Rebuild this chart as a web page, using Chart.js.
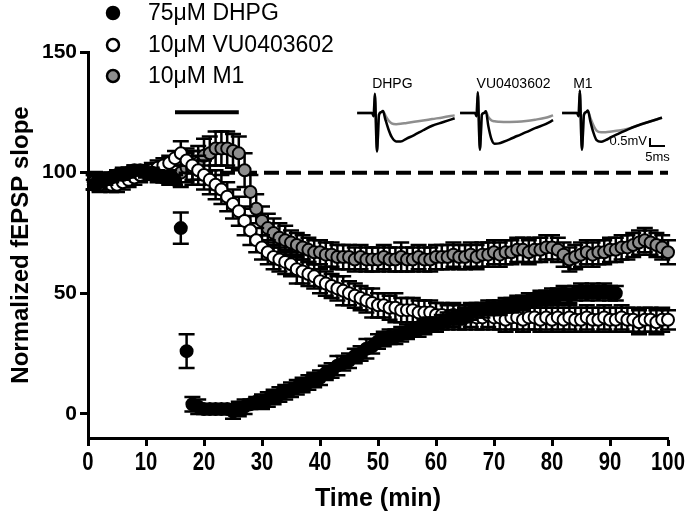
<!DOCTYPE html>
<html>
<head>
<meta charset="utf-8">
<script src="https://cdn.jsdelivr.net/npm/chart.js@4.4.1/dist/chart.umd.min.js"></script>
<style>
  body { margin: 0; background: #fff; }
  #wrap { width: 690px; height: 520px; }
</style>
</head>
<body>
<div id="wrap"><canvas id="fepsp" width="690" height="520"></canvas></div>
<script>
// time points (min)
const minutes = [1, 2, 3, 4, 5, 6, 7, 8, 9, 10, 11, 12, 13, 14, 15, 16, 17, 18, 19, 20,
  21, 22, 23, 24, 25, 26, 27, 28, 29, 30, 31, 32, 33, 34, 35, 36, 37, 38, 39, 40,
  41, 42, 43, 44, 45, 46, 47, 48, 49, 50, 51, 52, 53, 54, 55, 56, 57, 58, 59, 60,
  61, 62, 63, 64, 65, 66, 67, 68, 69, 70, 71, 72, 73, 74, 75, 76, 77, 78, 79, 80,
  81, 82, 83, 84, 85, 86, 87, 88, 89, 90, 91, 92, 93, 94, 95, 96, 97, 98, 99, 100];
const xTicks = [0, 10, 20, 30, 40, 50, 60, 70, 80, 90, 100];
const yTicks = [0, 50, 100, 150];

// 75uM DHPG (t = 1..91)
const dhpgMean = [95, 96, 97, 98, 99, 99, 100, 101, 101, 100, 100, 99, 98, 98, 97,
  77, 26,
  4, 3, 2, 2, 2, 2, 2, 1, 2, 3, 4, 5, 5,
  6, 7, 8, 9, 10, 11, 12, 13, 14, 15,
  17, 18, 20, 21, 22, 24, 25, 27, 28, 30,
  31, 32, 32, 33, 34, 35, 35, 36, 37, 37,
  38, 39, 40, 40, 41, 42, 43, 43, 44, 44,
  44, 45, 45, 46, 46, 47, 47, 48, 48, 49,
  49, 50, 49, 50, 51, 50, 51, 50, 51, 50, 50];
const dhpgSem = [2, 2, 2, 2, 2, 2, 2, 2, 2, 2, 2, 2, 2, 2, 2,
  6.5, 7,
  3, 3, 2, 2, 2, 2, 2, 3, 3, 3, 2, 2, 3,
  3, 3, 3, 3, 3, 3, 3, 3, 3, 3, 3, 3, 4, 3, 3, 3, 3, 4, 3, 3,
  3, 3, 3, 3, 3, 3, 3, 3, 3, 3, 3, 3, 3, 3, 3, 3, 3, 3, 3, 3,
  3, 3, 3, 3, 3, 3, 3, 3, 3, 3, 3, 3, 3, 3, 3, 3, 3, 3, 3, 3, 3];

// 10uM VU0403602
const vuMean = [96, 95, 96, 95, 95, 96, 97, 98, 99, 100,
  101, 102, 103, 104, 106, 108,
  105, 103, 101, 99, 97, 95, 93, 90, 87, 84,
  80, 76, 72, 69, 67, 65, 64, 63, 62, 60, 59, 58, 57, 55, 54, 53, 52, 51, 50, 49, 48, 47, 46, 45,
  45, 44, 44, 43, 43, 43, 42, 42, 42, 41,
  41, 40, 41, 40, 40, 41, 40, 40, 41, 40, 40, 39, 40, 40, 39, 40, 40, 39, 40, 39,
  40, 39, 40, 39, 39, 40, 39, 39, 40, 39, 39, 40, 39, 39, 38, 39, 39, 38, 39, 39];
const vuSem = [3, 3, 3, 3, 3, 3, 3, 3, 3, 3, 3, 3, 3, 3, 3,
  5, 5, 6, 6, 6, 6, 6, 6, 6, 6, 6, 6, 6, 5, 5,
  5, 5, 5, 5, 5, 6, 5, 5, 5, 5, 5, 5, 5, 6, 5, 5, 5, 5, 6, 5,
  5, 5, 6, 5, 5, 5, 5, 5, 5, 5, 5, 5, 5, 5, 5, 5, 5, 5, 5, 5,
  5, 5, 5, 5, 5, 5, 5, 5, 5, 5, 5, 5, 5, 5, 5, 5, 5, 5, 5, 5,
  5, 5, 5, 5, 5, 5, 5, 5, 5, 4];

// 10uM M1
const m1Mean = [96, 96, 97, 97, 98, 99, 99, 100, 100, 100, 100, 99, 99, 98, 98,
  100, 102, 102, 104, 107, 108, 110, 110, 110, 109, 108,
  101, 92, 85, 80, 77, 75, 73, 72, 71, 70, 69, 68, 67, 67,
  66, 66, 65, 65, 65, 64, 65, 64, 64, 64,
  65, 64, 64, 65, 64, 64, 65, 64, 64, 65,
  65, 65, 66, 65, 65, 66, 65, 66, 66, 67,
  66, 67, 67, 68, 68, 67, 68, 68, 69, 69,
  68, 66, 64, 65, 66, 67, 66, 67, 67, 68,
  68, 69, 69, 70, 71, 72, 71, 70, 69, 67];
const m1Sem = [3, 3, 3, 3, 3, 3, 3, 3, 3, 3, 3, 3, 3, 3, 3,
  6, 6, 7, 7, 7, 7, 7, 7, 7, 7, 7,
  7, 7, 6, 6, 6, 6, 6, 6, 5, 5, 5, 5, 5, 5,
  5, 5, 5, 5, 5, 5, 5, 5, 5, 5, 5, 5, 5, 6, 5, 5, 5, 5, 5, 5,
  5, 5, 5, 5, 5, 5, 5, 5, 5, 5, 5, 5, 5, 5, 5, 5, 5, 5, 5, 5,
  5, 5, 5, 5, 5, 5, 5, 5, 5, 5, 5, 5, 5, 5, 5, 5, 5, 5, 5, 5];

// baseline reference and drug application bar
const baselineX = [0, 100];
const baselineY = [100, 100];
const drugBarX = [15, 26];
const drugBarY = [125, 125];

// example traces: ms after panel start, mV from baseline (black = before, grey = after drug)
const dhpgTraceMs = [0, 5.0, 5.5, 5.9, 6.6, 7.3, 8.0, 8.6, 9.4, 10.4, 11.5, 13, 14.5, 16.5, 19, 22, 25, 28.5, 32.5];
const dhpgTraceCtl = [0, 0, -0.2, 1.2, -2.4, -0.1, 0.05, 0.12, -0.4, -1.0, -1.5, -1.78, -1.78, -1.6, -1.38, -1.08, -0.8, -0.58, -0.33];
const dhpgTraceDrug = [0, 0, -0.2, 1.2, -2.4, -0.1, 0.05, 0.12, -0.15, -0.45, -0.65, -0.7, -0.68, -0.62, -0.55, -0.47, -0.38, -0.28, -0.15];
const vuTraceMs = [0, 5.0, 5.5, 5.9, 6.6, 7.3, 8.0, 8.6, 9.4, 10.4, 11.5, 13, 14.5, 16.5, 19, 22, 25, 28.5, 31];
const vuTraceCtl = [0, 0, -0.2, 1.3, -2.3, -0.1, 0.0, 0.1, -0.8, -1.6, -1.92, -1.9, -1.8, -1.65, -1.44, -1.2, -0.95, -0.7, -0.45];
const vuTraceDrug = [0, 0, -0.2, 1.3, -2.3, -0.1, 0.0, 0.1, -0.25, -0.45, -0.52, -0.55, -0.56, -0.56, -0.55, -0.5, -0.42, -0.3, -0.15];
const m1TraceMs = [0, 5.0, 5.5, 5.9, 6.6, 7.3, 8.0, 8.6, 9.4, 10.4, 11.5, 13, 14.5, 16.5, 19, 22, 25, 28.5, 33.3];
const m1TraceCtl = [0, 0, -0.2, 1.4, -2.3, -0.1, 0.05, 0.15, -0.5, -1.2, -1.7, -1.8, -1.7, -1.5, -1.28, -1.02, -0.8, -0.58, -0.3];
const m1TraceDrug = [0, 0, -0.2, 1.4, -2.3, -0.1, 0.05, 0.12, -0.3, -0.75, -1.1, -1.2, -1.2, -1.16, -1.1, -0.98, -0.8, -0.58, -0.3];
const traceNames = ['DHPG', 'VU0403602', 'M1'];
const scaleBarMs = [29.3, 29.3, 34.3];
const scaleBarMv = [-1.56, -2.06, -2.06];

// where each trace panel starts on the hidden trace axis (ms)
const panelStart = [89.7, 124, 158];
const nameOffset = [5, 5.5, 3.7];

const FONT = "'Liberation Sans', Arial, sans-serif";
const GREY = '#8e8e8e';

function pts(xs, ys, dx) {
    return ys.map(function(v, i) { return { x: xs[i] + (dx || 0), y: v }; });
}

function seriesSet(label, mean, sem, fill) {
    return {
        type: 'scatter',
        label: label,
        data: pts(minutes, mean),
        sem: sem,
        pointRadius: 6,
        pointHoverRadius: 6,
        borderWidth: 2,
        borderColor: '#000',
        backgroundColor: fill,
        clip: false,
        order: 0
    };
}

function traceSet(xs, ys, panel, color) {
    return {
        type: 'line',
        data: pts(xs, ys, panelStart[panel]),
        xAxisID: 'tx',
        yAxisID: 'ty',
        borderColor: color,
        borderWidth: 2.5,
        pointRadius: 0,
        cubicInterpolationMode: 'monotone',
        clip: false,
        order: 5
    };
}

const errorBars = {
    id: 'errorBars',
    beforeDatasetDraw(chart, args) {
        const ds = chart.data.datasets[args.index];
        if (!ds.sem) return;
        const y = chart.scales.y;
        const ctx = chart.ctx;
        ctx.save();
        ctx.strokeStyle = '#000';
        ctx.lineWidth = 2.5;
        args.meta.data.forEach(function(p, i) {
            const v = ds.data[i].y;
            const hi = y.getPixelForValue(v + ds.sem[i]);
            const lo = y.getPixelForValue(v - ds.sem[i]);
            ctx.beginPath();
            ctx.moveTo(p.x, hi); ctx.lineTo(p.x, lo);
            ctx.moveTo(p.x - 8, hi); ctx.lineTo(p.x + 8, hi);
            ctx.moveTo(p.x - 8, lo); ctx.lineTo(p.x + 8, lo);
            ctx.stroke();
        });
        ctx.restore();
    }
};

const annotations = {
    id: 'annotations',
    afterDraw(chart) {
        const ctx = chart.ctx;
        const x = chart.scales.x;
        const tx = chart.scales.tx, ty = chart.scales.ty;
        ctx.save();
        ctx.fillStyle = '#000';
        // x tick labels in a narrow bold face
        ctx.font = 'bold 26px ' + FONT;
        ctx.textAlign = 'center';
        ctx.textBaseline = 'top';
        xTicks.forEach(function(v) {
            ctx.save();
            ctx.translate(x.getPixelForValue(v), x.top + 12);
            ctx.scale(0.78, 1);
            ctx.fillText(String(v), 0, 0);
            ctx.restore();
        });
        // legend
        const rows = [13, 45, 76];
        chart.data.datasets.filter(function(d) { return d.sem; }).forEach(function(d, i) {
            ctx.beginPath();
            ctx.arc(113, rows[i], 6, 0, Math.PI * 2);
            ctx.fillStyle = d.backgroundColor;
            ctx.fill();
            ctx.lineWidth = 2.5;
            ctx.strokeStyle = '#000';
            ctx.stroke();
            ctx.fillStyle = '#000';
            ctx.font = '23px ' + FONT;
            ctx.textBaseline = 'middle';
            ctx.textAlign = 'left';
            ctx.fillText(d.label, 148, rows[i] + 1);
        });
        // trace panel names
        ctx.font = '14px ' + FONT;
        traceNames.forEach(function(n, i) {
            ctx.fillText(n, tx.getPixelForValue(panelStart[i] + nameOffset[i]), ty.getPixelForValue(1.8));
        });
        // scale bar labels
        ctx.font = '13px ' + FONT;
        ctx.textAlign = 'right';
        ctx.fillText('0.5mV', tx.getPixelForValue(panelStart[2] + 28.3), ty.getPixelForValue(-1.8));
        ctx.textAlign = 'center';
        ctx.fillText('5ms', tx.getPixelForValue(panelStart[2] + 31.8), ty.getPixelForValue(-2.75));
        ctx.restore();
    }
};

const datasets = [
    seriesSet('75μM DHPG', dhpgMean, dhpgSem, '#000'),
    seriesSet('10μM VU0403602', vuMean, vuSem, '#fff'),
    seriesSet('10μM M1', m1Mean, m1Sem, GREY),
    {
        type: 'line', data: pts(baselineX, baselineY), borderColor: '#000', borderWidth: 4,
        borderDash: [15, 7], pointRadius: 0, order: 10
    },
    {
        type: 'line', data: pts(drugBarX, drugBarY), borderColor: '#000', borderWidth: 4,
        pointRadius: 0, order: 10
    },
    traceSet(dhpgTraceMs, dhpgTraceCtl, 0, '#000'),
    traceSet(dhpgTraceMs, dhpgTraceDrug, 0, GREY),
    traceSet(vuTraceMs, vuTraceCtl, 1, '#000'),
    traceSet(vuTraceMs, vuTraceDrug, 1, GREY),
    traceSet(m1TraceMs, m1TraceCtl, 2, '#000'),
    traceSet(m1TraceMs, m1TraceDrug, 2, GREY),
    {
        type: 'line', data: pts(scaleBarMs, scaleBarMv, panelStart[2]), xAxisID: 'tx', yAxisID: 'ty',
        borderColor: '#000', borderWidth: 2, pointRadius: 0, clip: false, order: 5
    }
];

new Chart(document.getElementById('fepsp').getContext('2d'), {
    type: 'scatter',
    data: { datasets: datasets },
    options: {
        responsive: false,
        animation: false,
        devicePixelRatio: 1,
        layout: { padding: { top: 52, right: 22 } },
        plugins: { legend: { display: false }, tooltip: { enabled: false } },
        scales: {
            x: {
                type: 'linear',
                min: 0, max: 100,
                afterFit: function(s) { s.height = 82; },
                afterBuildTicks: function(s) { s.ticks = xTicks.map(function(v) { return { value: v }; }); },
                ticks: { display: false },
                grid: { drawOnChartArea: false, tickLength: 8, tickWidth: 3, tickColor: '#000' },
                border: { color: '#000', width: 3 },
                title: {
                    display: true, text: 'Time (min)', color: '#000',
                    font: { family: FONT, weight: 'bold', size: 25 },
                    padding: { top: 0, bottom: 6 }
                }
            },
            y: {
                type: 'linear',
                min: -10, max: 150,
                afterFit: function(s) { s.width = 88; },
                afterBuildTicks: function(s) { s.ticks = yTicks.map(function(v) { return { value: v }; }); },
                ticks: {
                    color: '#000', padding: 3,
                    font: { family: FONT, weight: 'bold', size: 21 }
                },
                grid: { drawOnChartArea: false, tickLength: 8, tickWidth: 3, tickColor: '#000' },
                border: { color: '#000', width: 3 },
                title: {
                    display: true, text: 'Normalized fEPSP slope', color: '#000',
                    font: { family: FONT, weight: 'bold', size: 24 },
                    padding: { top: 7, bottom: 0 }
                }
            },
            tx: { type: 'linear', display: false, min: 0, max: 193.3 },
            ty: { type: 'linear', display: false, min: -20.31, max: 3.81 }
        }
    },
    plugins: [errorBars, annotations]
});
</script>
</body>
</html>
